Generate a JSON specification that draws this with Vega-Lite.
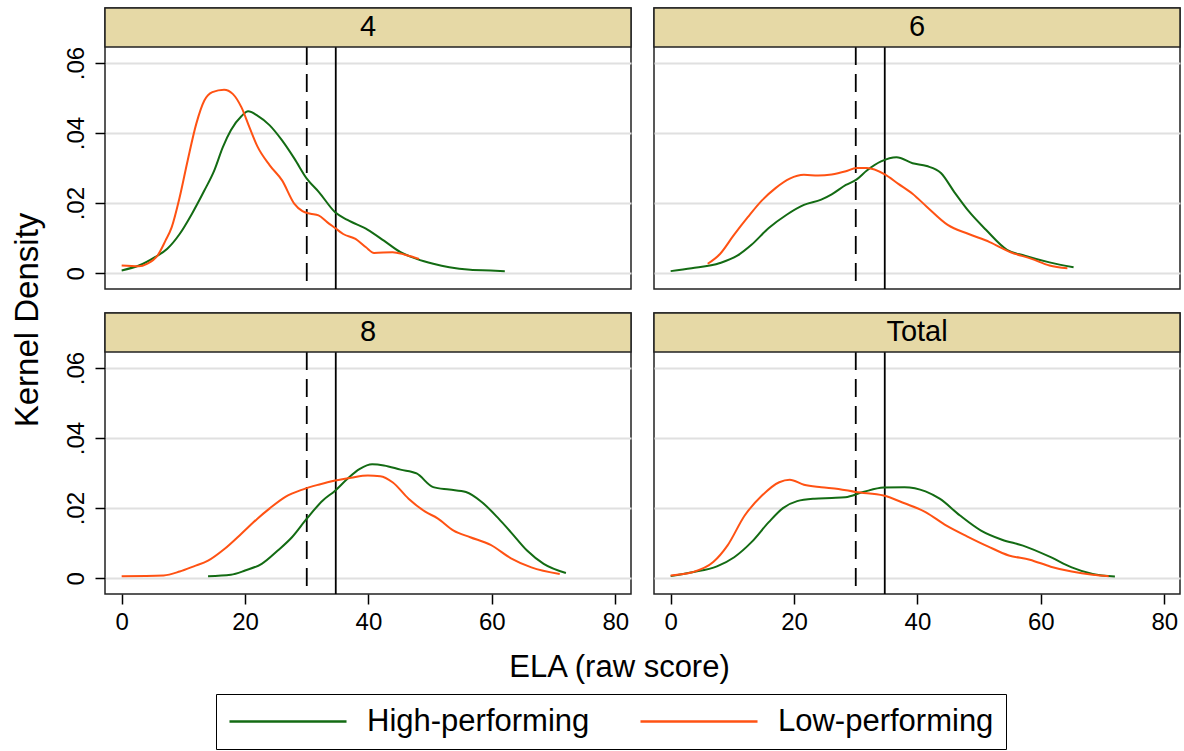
{
  "$schema": "https://vega.github.io/schema/vega-lite/v6.json",
  "background": "white",
  "padding": {"left": 10, "top": 6, "right": 3, "bottom": 2},
  "config": {
    "font": "Liberation Sans",
    "view": {"stroke": "#222222", "strokeWidth": 1.5},
    "axis": {"labelColor": "black", "titleColor": "black", "titleFontWeight": "normal"}
  },
  "datasets": {
    "curves": [
      {"g":"4","s":"High-performing","x":0,"y":0.0008},{"g":"4","s":"High-performing","x":2.8,"y":0.0022},{"g":"4","s":"High-performing","x":5.4,"y":0.0046},{"g":"4","s":"High-performing","x":7.4,"y":0.007},{"g":"4","s":"High-performing","x":9.4,"y":0.0112},{"g":"4","s":"High-performing","x":11.4,"y":0.017},{"g":"4","s":"High-performing","x":13.4,"y":0.0236},{"g":"4","s":"High-performing","x":15,"y":0.0293},{"g":"4","s":"High-performing","x":16.4,"y":0.036},{"g":"4","s":"High-performing","x":17.7,"y":0.0408},{"g":"4","s":"High-performing","x":19.4,"y":0.0448},{"g":"4","s":"High-performing","x":20.5,"y":0.0462},{"g":"4","s":"High-performing","x":22,"y":0.045},{"g":"4","s":"High-performing","x":24,"y":0.0422},{"g":"4","s":"High-performing","x":26,"y":0.0379},{"g":"4","s":"High-performing","x":28,"y":0.0327},{"g":"4","s":"High-performing","x":30,"y":0.027},{"g":"4","s":"High-performing","x":32,"y":0.0231},{"g":"4","s":"High-performing","x":34.6,"y":0.0174},{"g":"4","s":"High-performing","x":36.6,"y":0.0152},{"g":"4","s":"High-performing","x":39.9,"y":0.0124},{"g":"4","s":"High-performing","x":42.5,"y":0.0093},{"g":"4","s":"High-performing","x":45.2,"y":0.006},{"g":"4","s":"High-performing","x":47.8,"y":0.0041},{"g":"4","s":"High-performing","x":50.5,"y":0.0027},{"g":"4","s":"High-performing","x":53.1,"y":0.0017},{"g":"4","s":"High-performing","x":56.5,"y":0.001},{"g":"4","s":"High-performing","x":59.8,"y":0.0008},{"g":"4","s":"High-performing","x":62.1,"y":0.0006},
      {"g":"4","s":"Low-performing","x":0,"y":0.0022},{"g":"4","s":"Low-performing","x":2.8,"y":0.002},{"g":"4","s":"Low-performing","x":4.1,"y":0.0027},{"g":"4","s":"Low-performing","x":5.8,"y":0.005},{"g":"4","s":"Low-performing","x":7.1,"y":0.0093},{"g":"4","s":"Low-performing","x":8.1,"y":0.0131},{"g":"4","s":"Low-performing","x":9.4,"y":0.0217},{"g":"4","s":"Low-performing","x":10.7,"y":0.0322},{"g":"4","s":"Low-performing","x":12.1,"y":0.0427},{"g":"4","s":"Low-performing","x":13.4,"y":0.0493},{"g":"4","s":"Low-performing","x":14.7,"y":0.0517},{"g":"4","s":"Low-performing","x":16.6,"y":0.0524},{"g":"4","s":"Low-performing","x":18,"y":0.0512},{"g":"4","s":"Low-performing","x":19.4,"y":0.0474},{"g":"4","s":"Low-performing","x":20.7,"y":0.0417},{"g":"4","s":"Low-performing","x":22,"y":0.0362},{"g":"4","s":"Low-performing","x":24,"y":0.0308},{"g":"4","s":"Low-performing","x":26,"y":0.0265},{"g":"4","s":"Low-performing","x":28,"y":0.0198},{"g":"4","s":"Low-performing","x":29.3,"y":0.0177},{"g":"4","s":"Low-performing","x":30.6,"y":0.017},{"g":"4","s":"Low-performing","x":31.9,"y":0.0165},{"g":"4","s":"Low-performing","x":33.3,"y":0.0146},{"g":"4","s":"Low-performing","x":34.6,"y":0.0129},{"g":"4","s":"Low-performing","x":35.9,"y":0.0112},{"g":"4","s":"Low-performing","x":37.9,"y":0.0098},{"g":"4","s":"Low-performing","x":39.6,"y":0.0074},{"g":"4","s":"Low-performing","x":40.9,"y":0.0058},{"g":"4","s":"Low-performing","x":43.9,"y":0.006},{"g":"4","s":"Low-performing","x":45.9,"y":0.0053},{"g":"4","s":"Low-performing","x":48.2,"y":0.0041},
      {"g":"6","s":"High-performing","x":0,"y":0.0006},{"g":"6","s":"High-performing","x":3.4,"y":0.0014},{"g":"6","s":"High-performing","x":8,"y":0.0029},{"g":"6","s":"High-performing","x":10.8,"y":0.005},{"g":"6","s":"High-performing","x":13.1,"y":0.0081},{"g":"6","s":"High-performing","x":15.9,"y":0.0129},{"g":"6","s":"High-performing","x":18.8,"y":0.0167},{"g":"6","s":"High-performing","x":21.6,"y":0.0195},{"g":"6","s":"High-performing","x":24.4,"y":0.021},{"g":"6","s":"High-performing","x":26.1,"y":0.0225},{"g":"6","s":"High-performing","x":28.4,"y":0.0252},{"g":"6","s":"High-performing","x":30.1,"y":0.0267},{"g":"6","s":"High-performing","x":31.8,"y":0.0293},{"g":"6","s":"High-performing","x":34.1,"y":0.0319},{"g":"6","s":"High-performing","x":36.6,"y":0.0331},{"g":"6","s":"High-performing","x":39.2,"y":0.0314},{"g":"6","s":"High-performing","x":41.5,"y":0.0306},{"g":"6","s":"High-performing","x":43.8,"y":0.0286},{"g":"6","s":"High-performing","x":46,"y":0.0231},{"g":"6","s":"High-performing","x":48.3,"y":0.0177},{"g":"6","s":"High-performing","x":51.1,"y":0.0124},{"g":"6","s":"High-performing","x":54.5,"y":0.0067},{"g":"6","s":"High-performing","x":57.4,"y":0.005},{"g":"6","s":"High-performing","x":61.4,"y":0.0031},{"g":"6","s":"High-performing","x":65.3,"y":0.0017},
      {"g":"6","s":"Low-performing","x":6,"y":0.0027},{"g":"6","s":"Low-performing","x":8,"y":0.0055},{"g":"6","s":"Low-performing","x":10.2,"y":0.0108},{"g":"6","s":"Low-performing","x":12.5,"y":0.016},{"g":"6","s":"Low-performing","x":14.8,"y":0.0208},{"g":"6","s":"Low-performing","x":17,"y":0.0243},{"g":"6","s":"Low-performing","x":19.3,"y":0.027},{"g":"6","s":"Low-performing","x":21.6,"y":0.0281},{"g":"6","s":"Low-performing","x":23.9,"y":0.0279},{"g":"6","s":"Low-performing","x":26.1,"y":0.0282},{"g":"6","s":"Low-performing","x":28.4,"y":0.0291},{"g":"6","s":"Low-performing","x":30.1,"y":0.03},{"g":"6","s":"Low-performing","x":31.8,"y":0.03},{"g":"6","s":"Low-performing","x":34.7,"y":0.0282},{"g":"6","s":"Low-performing","x":36.9,"y":0.0255},{"g":"6","s":"Low-performing","x":39.2,"y":0.0227},{"g":"6","s":"Low-performing","x":41.5,"y":0.019},{"g":"6","s":"Low-performing","x":44.9,"y":0.0138},{"g":"6","s":"Low-performing","x":48.3,"y":0.0112},{"g":"6","s":"Low-performing","x":51.7,"y":0.0089},{"g":"6","s":"Low-performing","x":55.1,"y":0.006},{"g":"6","s":"Low-performing","x":58.5,"y":0.0041},{"g":"6","s":"Low-performing","x":61.4,"y":0.0022},{"g":"6","s":"Low-performing","x":64.3,"y":0.0014},
      {"g":"8","s":"High-performing","x":14,"y":0.0006},{"g":"8","s":"High-performing","x":17.7,"y":0.001},{"g":"8","s":"High-performing","x":20,"y":0.0022},{"g":"8","s":"High-performing","x":22.7,"y":0.0041},{"g":"8","s":"High-performing","x":25.3,"y":0.0079},{"g":"8","s":"High-performing","x":27.6,"y":0.0117},{"g":"8","s":"High-performing","x":30,"y":0.017},{"g":"8","s":"High-performing","x":32.6,"y":0.0222},{"g":"8","s":"High-performing","x":34.6,"y":0.025},{"g":"8","s":"High-performing","x":36.6,"y":0.0284},{"g":"8","s":"High-performing","x":38.6,"y":0.0312},{"g":"8","s":"High-performing","x":40.6,"y":0.0325},{"g":"8","s":"High-performing","x":42.5,"y":0.0322},{"g":"8","s":"High-performing","x":45.2,"y":0.031},{"g":"8","s":"High-performing","x":47.8,"y":0.0299},{"g":"8","s":"High-performing","x":50.5,"y":0.026},{"g":"8","s":"High-performing","x":53.1,"y":0.0253},{"g":"8","s":"High-performing","x":55.8,"y":0.0246},{"g":"8","s":"High-performing","x":58.4,"y":0.0217},{"g":"8","s":"High-performing","x":61.1,"y":0.017},{"g":"8","s":"High-performing","x":63.1,"y":0.0131},{"g":"8","s":"High-performing","x":65.7,"y":0.0079},{"g":"8","s":"High-performing","x":68.4,"y":0.0041},{"g":"8","s":"High-performing","x":72,"y":0.0015},
      {"g":"8","s":"Low-performing","x":0,"y":0.0006},{"g":"8","s":"Low-performing","x":6.8,"y":0.0008},{"g":"8","s":"Low-performing","x":9.4,"y":0.0019},{"g":"8","s":"Low-performing","x":11.7,"y":0.0034},{"g":"8","s":"Low-performing","x":14,"y":0.005},{"g":"8","s":"Low-performing","x":16.7,"y":0.0084},{"g":"8","s":"Low-performing","x":19.4,"y":0.0127},{"g":"8","s":"Low-performing","x":22,"y":0.017},{"g":"8","s":"Low-performing","x":23.9,"y":0.0198},{"g":"8","s":"Low-performing","x":26.6,"y":0.0233},{"g":"8","s":"Low-performing","x":29.3,"y":0.0253},{"g":"8","s":"Low-performing","x":31.9,"y":0.0267},{"g":"8","s":"Low-performing","x":34.6,"y":0.0279},{"g":"8","s":"Low-performing","x":37.2,"y":0.0287},{"g":"8","s":"Low-performing","x":39.9,"y":0.0293},{"g":"8","s":"Low-performing","x":41.9,"y":0.0291},{"g":"8","s":"Low-performing","x":43.9,"y":0.0274},{"g":"8","s":"Low-performing","x":46.5,"y":0.0227},{"g":"8","s":"Low-performing","x":49.2,"y":0.019},{"g":"8","s":"Low-performing","x":51.2,"y":0.0171},{"g":"8","s":"Low-performing","x":53.8,"y":0.0136},{"g":"8","s":"Low-performing","x":56.5,"y":0.0117},{"g":"8","s":"Low-performing","x":59.8,"y":0.0095},{"g":"8","s":"Low-performing","x":63.1,"y":0.0057},{"g":"8","s":"Low-performing","x":66.4,"y":0.0031},{"g":"8","s":"Low-performing","x":71,"y":0.0012},
      {"g":"Total","s":"High-performing","x":0,"y":0.0006},{"g":"Total","s":"High-performing","x":3.5,"y":0.0017},{"g":"Total","s":"High-performing","x":7.5,"y":0.0034},{"g":"Total","s":"High-performing","x":10.3,"y":0.006},{"g":"Total","s":"High-performing","x":13.1,"y":0.0103},{"g":"Total","s":"High-performing","x":15.9,"y":0.016},{"g":"Total","s":"High-performing","x":18.2,"y":0.02},{"g":"Total","s":"High-performing","x":20.5,"y":0.022},{"g":"Total","s":"High-performing","x":23.3,"y":0.0227},{"g":"Total","s":"High-performing","x":26.1,"y":0.0229},{"g":"Total","s":"High-performing","x":28.3,"y":0.0231},{"g":"Total","s":"High-performing","x":31.2,"y":0.0246},{"g":"Total","s":"High-performing","x":34.5,"y":0.0259},{"g":"Total","s":"High-performing","x":37.9,"y":0.026},{"g":"Total","s":"High-performing","x":41.3,"y":0.0248},{"g":"Total","s":"High-performing","x":43.6,"y":0.0227},{"g":"Total","s":"High-performing","x":46.9,"y":0.0179},{"g":"Total","s":"High-performing","x":50.3,"y":0.0136},{"g":"Total","s":"High-performing","x":53.7,"y":0.011},{"g":"Total","s":"High-performing","x":57.1,"y":0.0093},{"g":"Total","s":"High-performing","x":61.6,"y":0.006},{"g":"Total","s":"High-performing","x":65,"y":0.0031},{"g":"Total","s":"High-performing","x":68.4,"y":0.0012},{"g":"Total","s":"High-performing","x":72,"y":0.0005},
      {"g":"Total","s":"Low-performing","x":0,"y":0.0008},{"g":"Total","s":"Low-performing","x":3.5,"y":0.0017},{"g":"Total","s":"Low-performing","x":6.9,"y":0.0046},{"g":"Total","s":"Low-performing","x":9.2,"y":0.0093},{"g":"Total","s":"Low-performing","x":12,"y":0.0179},{"g":"Total","s":"Low-performing","x":14.8,"y":0.0236},{"g":"Total","s":"Low-performing","x":17.6,"y":0.0274},{"g":"Total","s":"Low-performing","x":19.3,"y":0.0281},{"g":"Total","s":"Low-performing","x":21.6,"y":0.0267},{"g":"Total","s":"Low-performing","x":24.4,"y":0.026},{"g":"Total","s":"Low-performing","x":27.2,"y":0.0255},{"g":"Total","s":"Low-performing","x":30,"y":0.0246},{"g":"Total","s":"Low-performing","x":34.5,"y":0.0236},{"g":"Total","s":"Low-performing","x":37.9,"y":0.0214},{"g":"Total","s":"Low-performing","x":41.3,"y":0.0189},{"g":"Total","s":"Low-performing","x":44.7,"y":0.015},{"g":"Total","s":"Low-performing","x":48.1,"y":0.0119},{"g":"Total","s":"Low-performing","x":51.4,"y":0.0091},{"g":"Total","s":"Low-performing","x":54.8,"y":0.0065},{"g":"Total","s":"Low-performing","x":58.2,"y":0.0053},{"g":"Total","s":"Low-performing","x":61.6,"y":0.0033},{"g":"Total","s":"Low-performing","x":65,"y":0.0019},{"g":"Total","s":"Low-performing","x":68.4,"y":0.001},{"g":"Total","s":"Low-performing","x":71,"y":0.0006}
    ],
    "cuts": [{"x": 30, "kind": "dashed"}, {"x": 34.7, "kind": "solid"}]
  },
  "columns": 2,
  "bounds": "flush",
  "spacing": {"row": 24, "column": 23},
  "concat": [
    {
      "width": 526, "height": 281,
      "layer": [
        {"data": {"name": "cuts"}, "transform": [{"filter": "datum.kind === 'dashed'"}], "mark": {"type": "rule", "color": "black", "strokeWidth": 1.8, "strokeDash": [18, 9], "strokeDashOffset": 19},
         "encoding": {"x": {"field": "x", "type": "quantitative", "axis": null},
                      "y": {"datum": -0.0045, "type": "quantitative", "axis": {"values": [0, 0.02, 0.04, 0.06], "labelAngle": -90, "labelFontSize": 24, "labelPadding": 7, "tickSize": 10, "tickColor": "black", "tickWidth": 1.5, "domain": false, "grid": true, "gridColor": "#e0e0e0", "gridWidth": 2, "labelExpr": "datum.value == 0 ? '0' : replace(format(datum.value, '.2f'), '0.', '.')", "title": "Kernel Density", "titleFontSize": 33, "titleAngle": -90, "titleBaseline": "alphabetic", "titleX": -68, "titleY": 311.5}},
                      "y2": {"datum": 0.0646}}},
        {"data": {"name": "cuts"}, "transform": [{"filter": "datum.kind === 'solid'"}], "mark": {"type": "rule", "color": "black", "strokeWidth": 1.8},
         "encoding": {"x": {"field": "x", "type": "quantitative", "axis": null},
                      "y": {"datum": -0.0045, "type": "quantitative", "axis": {"values": [0, 0.02, 0.04, 0.06], "labelAngle": -90, "labelFontSize": 24, "labelPadding": 7, "tickSize": 10, "tickColor": "black", "tickWidth": 1.5, "domain": false, "grid": true, "gridColor": "#e0e0e0", "gridWidth": 2, "labelExpr": "datum.value == 0 ? '0' : replace(format(datum.value, '.2f'), '0.', '.')", "title": "Kernel Density", "titleFontSize": 33, "titleAngle": -90, "titleBaseline": "alphabetic", "titleX": -68, "titleY": 311.5}},
                      "y2": {"datum": 0.0646}}},
        {"data": {"name": "curves"}, "transform": [{"filter": "datum.g === '4'"}], "mark": {"type": "line", "strokeWidth": 2, "interpolate": "monotone"},
         "encoding": {
           "x": {"field": "x", "type": "quantitative", "scale": {"domain": [-2.7, 82.55], "nice": false, "zero": false}, "axis": null},
           "y": {"field": "y", "type": "quantitative", "scale": {"domain": [-0.0045, 0.0757], "nice": false, "zero": false},
                 "axis": {"values": [0, 0.02, 0.04, 0.06], "labelAngle": -90, "labelFontSize": 24, "labelPadding": 7, "tickSize": 10, "tickColor": "black", "tickWidth": 1.5, "domain": false, "grid": true, "gridColor": "#e0e0e0", "gridWidth": 2, "labelExpr": "datum.value == 0 ? '0' : replace(format(datum.value, '.2f'), '0.', '.')", "title": "Kernel Density", "titleFontSize": 33, "titleAngle": -90, "titleBaseline": "alphabetic", "titleX": -68, "titleY": 311.5}},
           "color": {"field": "s", "type": "nominal", "scale": {"domain": ["High-performing", "Low-performing"], "range": ["#136b13", "#ff5213"]},
                     "legend": {"title": null, "orient": "none", "legendX": 111, "legendY": 686, "direction": "horizontal", "strokeColor": "black", "padding": 12, "symbolType": "stroke", "symbolSize": 13700, "clipHeight": 31, "symbolStrokeWidth": 2.5, "labelFontSize": 31, "labelColor": "black", "labelOffset": 19, "labelLimit": 400, "columnPadding": 49, "gridAlign": "all"}}}},
        {"data": {"values": [{"label": "4"}]}, "mark": {"type": "rect", "fill": "#e6d9a6", "stroke": "#222222", "strokeWidth": 1.5},
         "encoding": {"x": {"datum": -2.7, "type": "quantitative", "axis": null}, "x2": {"datum": 82.55},
                      "y": {"datum": 0.0646, "type": "quantitative", "axis": {"values": [0, 0.02, 0.04, 0.06], "labelAngle": -90, "labelFontSize": 24, "labelPadding": 7, "tickSize": 10, "tickColor": "black", "tickWidth": 1.5, "domain": false, "grid": true, "gridColor": "#e0e0e0", "gridWidth": 2, "labelExpr": "datum.value == 0 ? '0' : replace(format(datum.value, '.2f'), '0.', '.')", "title": "Kernel Density", "titleFontSize": 33, "titleAngle": -90, "titleBaseline": "alphabetic", "titleX": -68, "titleY": 311.5}},
                      "y2": {"datum": 0.0757}}},
        {"data": {"values": [{"label": "4"}]}, "mark": {"type": "text", "fontSize": 29, "color": "black", "baseline": "middle"},
         "encoding": {"x": {"datum": 39.925, "type": "quantitative", "axis": null},
                      "y": {"datum": 0.07015, "type": "quantitative", "axis": {"values": [0, 0.02, 0.04, 0.06], "labelAngle": -90, "labelFontSize": 24, "labelPadding": 7, "tickSize": 10, "tickColor": "black", "tickWidth": 1.5, "domain": false, "grid": true, "gridColor": "#e0e0e0", "gridWidth": 2, "labelExpr": "datum.value == 0 ? '0' : replace(format(datum.value, '.2f'), '0.', '.')", "title": "Kernel Density", "titleFontSize": 33, "titleAngle": -90, "titleBaseline": "alphabetic", "titleX": -68, "titleY": 311.5}},
                      "text": {"field": "label", "type": "nominal"}}}
      ]
    },
    {
      "width": 526, "height": 281,
      "layer": [
        {"data": {"name": "cuts"}, "transform": [{"filter": "datum.kind === 'dashed'"}], "mark": {"type": "rule", "color": "black", "strokeWidth": 1.8, "strokeDash": [18, 9], "strokeDashOffset": 19},
         "encoding": {"x": {"field": "x", "type": "quantitative", "axis": null},
                      "y": {"datum": -0.0045, "type": "quantitative", "axis": {"values": [0, 0.02, 0.04, 0.06], "labels": false, "ticks": false, "domain": false, "grid": true, "gridColor": "#e0e0e0", "gridWidth": 2, "title": null}},
                      "y2": {"datum": 0.0646}}},
        {"data": {"name": "cuts"}, "transform": [{"filter": "datum.kind === 'solid'"}], "mark": {"type": "rule", "color": "black", "strokeWidth": 1.8},
         "encoding": {"x": {"field": "x", "type": "quantitative", "axis": null},
                      "y": {"datum": -0.0045, "type": "quantitative", "axis": {"values": [0, 0.02, 0.04, 0.06], "labels": false, "ticks": false, "domain": false, "grid": true, "gridColor": "#e0e0e0", "gridWidth": 2, "title": null}},
                      "y2": {"datum": 0.0646}}},
        {"data": {"name": "curves"}, "transform": [{"filter": "datum.g === '6'"}], "mark": {"type": "line", "strokeWidth": 2, "interpolate": "monotone"},
         "encoding": {
           "x": {"field": "x", "type": "quantitative", "scale": {"domain": [-2.7, 82.55], "nice": false, "zero": false}, "axis": null},
           "y": {"field": "y", "type": "quantitative", "scale": {"domain": [-0.0045, 0.0757], "nice": false, "zero": false},
                 "axis": {"values": [0, 0.02, 0.04, 0.06], "labels": false, "ticks": false, "domain": false, "grid": true, "gridColor": "#e0e0e0", "gridWidth": 2, "title": null}},
           "color": {"field": "s", "type": "nominal", "scale": {"domain": ["High-performing", "Low-performing"], "range": ["#136b13", "#ff5213"]},
                     "legend": {"title": null, "orient": "none", "legendX": 111, "legendY": 686, "direction": "horizontal", "strokeColor": "black", "padding": 12, "symbolType": "stroke", "symbolSize": 13700, "clipHeight": 31, "symbolStrokeWidth": 2.5, "labelFontSize": 31, "labelColor": "black", "labelOffset": 19, "labelLimit": 400, "columnPadding": 49, "gridAlign": "all"}}}},
        {"data": {"values": [{"label": "6"}]}, "mark": {"type": "rect", "fill": "#e6d9a6", "stroke": "#222222", "strokeWidth": 1.5},
         "encoding": {"x": {"datum": -2.7, "type": "quantitative", "axis": null}, "x2": {"datum": 82.55},
                      "y": {"datum": 0.0646, "type": "quantitative", "axis": {"values": [0, 0.02, 0.04, 0.06], "labels": false, "ticks": false, "domain": false, "grid": true, "gridColor": "#e0e0e0", "gridWidth": 2, "title": null}},
                      "y2": {"datum": 0.0757}}},
        {"data": {"values": [{"label": "6"}]}, "mark": {"type": "text", "fontSize": 29, "color": "black", "baseline": "middle"},
         "encoding": {"x": {"datum": 39.925, "type": "quantitative", "axis": null},
                      "y": {"datum": 0.07015, "type": "quantitative", "axis": {"values": [0, 0.02, 0.04, 0.06], "labels": false, "ticks": false, "domain": false, "grid": true, "gridColor": "#e0e0e0", "gridWidth": 2, "title": null}},
                      "text": {"field": "label", "type": "nominal"}}}
      ]
    },
    {
      "width": 526, "height": 281,
      "layer": [
        {"data": {"name": "cuts"}, "transform": [{"filter": "datum.kind === 'dashed'"}], "mark": {"type": "rule", "color": "black", "strokeWidth": 1.8, "strokeDash": [18, 9], "strokeDashOffset": 19},
         "encoding": {"x": {"field": "x", "type": "quantitative", "axis": {"values": [0, 20, 40, 60, 80], "labelAngle": 0, "labelFontSize": 24, "labelPadding": 6, "tickSize": 10, "tickColor": "black", "tickWidth": 1.5, "domain": false, "grid": false, "title": "ELA (raw score)", "titleFontSize": 31, "titleBaseline": "alphabetic", "titleX": 514, "titleY": 82}},
                      "y": {"datum": -0.0045, "type": "quantitative", "axis": {"values": [0, 0.02, 0.04, 0.06], "labelAngle": -90, "labelFontSize": 24, "labelPadding": 7, "tickSize": 10, "tickColor": "black", "tickWidth": 1.5, "domain": false, "grid": true, "gridColor": "#e0e0e0", "gridWidth": 2, "labelExpr": "datum.value == 0 ? '0' : replace(format(datum.value, '.2f'), '0.', '.')", "title": null}},
                      "y2": {"datum": 0.0646}}},
        {"data": {"name": "cuts"}, "transform": [{"filter": "datum.kind === 'solid'"}], "mark": {"type": "rule", "color": "black", "strokeWidth": 1.8},
         "encoding": {"x": {"field": "x", "type": "quantitative", "axis": {"values": [0, 20, 40, 60, 80], "labelAngle": 0, "labelFontSize": 24, "labelPadding": 6, "tickSize": 10, "tickColor": "black", "tickWidth": 1.5, "domain": false, "grid": false, "title": "ELA (raw score)", "titleFontSize": 31, "titleBaseline": "alphabetic", "titleX": 514, "titleY": 82}},
                      "y": {"datum": -0.0045, "type": "quantitative", "axis": {"values": [0, 0.02, 0.04, 0.06], "labelAngle": -90, "labelFontSize": 24, "labelPadding": 7, "tickSize": 10, "tickColor": "black", "tickWidth": 1.5, "domain": false, "grid": true, "gridColor": "#e0e0e0", "gridWidth": 2, "labelExpr": "datum.value == 0 ? '0' : replace(format(datum.value, '.2f'), '0.', '.')", "title": null}},
                      "y2": {"datum": 0.0646}}},
        {"data": {"name": "curves"}, "transform": [{"filter": "datum.g === '8'"}], "mark": {"type": "line", "strokeWidth": 2, "interpolate": "monotone"},
         "encoding": {
           "x": {"field": "x", "type": "quantitative", "scale": {"domain": [-2.7, 82.55], "nice": false, "zero": false},
                 "axis": {"values": [0, 20, 40, 60, 80], "labelAngle": 0, "labelFontSize": 24, "labelPadding": 6, "tickSize": 10, "tickColor": "black", "tickWidth": 1.5, "domain": false, "grid": false, "title": "ELA (raw score)", "titleFontSize": 31, "titleBaseline": "alphabetic", "titleX": 514, "titleY": 82}},
           "y": {"field": "y", "type": "quantitative", "scale": {"domain": [-0.0045, 0.0757], "nice": false, "zero": false},
                 "axis": {"values": [0, 0.02, 0.04, 0.06], "labelAngle": -90, "labelFontSize": 24, "labelPadding": 7, "tickSize": 10, "tickColor": "black", "tickWidth": 1.5, "domain": false, "grid": true, "gridColor": "#e0e0e0", "gridWidth": 2, "labelExpr": "datum.value == 0 ? '0' : replace(format(datum.value, '.2f'), '0.', '.')", "title": null}},
           "color": {"field": "s", "type": "nominal", "scale": {"domain": ["High-performing", "Low-performing"], "range": ["#136b13", "#ff5213"]},
                     "legend": {"title": null, "orient": "none", "legendX": 111, "legendY": 686, "direction": "horizontal", "strokeColor": "black", "padding": 12, "symbolType": "stroke", "symbolSize": 13700, "clipHeight": 31, "symbolStrokeWidth": 2.5, "labelFontSize": 31, "labelColor": "black", "labelOffset": 19, "labelLimit": 400, "columnPadding": 49, "gridAlign": "all"}}}},
        {"data": {"values": [{"label": "8"}]}, "mark": {"type": "rect", "fill": "#e6d9a6", "stroke": "#222222", "strokeWidth": 1.5},
         "encoding": {"x": {"datum": -2.7, "type": "quantitative", "axis": {"values": [0, 20, 40, 60, 80], "labelAngle": 0, "labelFontSize": 24, "labelPadding": 6, "tickSize": 10, "tickColor": "black", "tickWidth": 1.5, "domain": false, "grid": false, "title": "ELA (raw score)", "titleFontSize": 31, "titleBaseline": "alphabetic", "titleX": 514, "titleY": 82}}, "x2": {"datum": 82.55},
                      "y": {"datum": 0.0646, "type": "quantitative", "axis": {"values": [0, 0.02, 0.04, 0.06], "labelAngle": -90, "labelFontSize": 24, "labelPadding": 7, "tickSize": 10, "tickColor": "black", "tickWidth": 1.5, "domain": false, "grid": true, "gridColor": "#e0e0e0", "gridWidth": 2, "labelExpr": "datum.value == 0 ? '0' : replace(format(datum.value, '.2f'), '0.', '.')", "title": null}},
                      "y2": {"datum": 0.0757}}},
        {"data": {"values": [{"label": "8"}]}, "mark": {"type": "text", "fontSize": 29, "color": "black", "baseline": "middle"},
         "encoding": {"x": {"datum": 39.925, "type": "quantitative", "axis": {"values": [0, 20, 40, 60, 80], "labelAngle": 0, "labelFontSize": 24, "labelPadding": 6, "tickSize": 10, "tickColor": "black", "tickWidth": 1.5, "domain": false, "grid": false, "title": "ELA (raw score)", "titleFontSize": 31, "titleBaseline": "alphabetic", "titleX": 514, "titleY": 82}},
                      "y": {"datum": 0.07015, "type": "quantitative", "axis": {"values": [0, 0.02, 0.04, 0.06], "labelAngle": -90, "labelFontSize": 24, "labelPadding": 7, "tickSize": 10, "tickColor": "black", "tickWidth": 1.5, "domain": false, "grid": true, "gridColor": "#e0e0e0", "gridWidth": 2, "labelExpr": "datum.value == 0 ? '0' : replace(format(datum.value, '.2f'), '0.', '.')", "title": null}},
                      "text": {"field": "label", "type": "nominal"}}}
      ]
    },
    {
      "width": 526, "height": 281,
      "layer": [
        {"data": {"name": "cuts"}, "transform": [{"filter": "datum.kind === 'dashed'"}], "mark": {"type": "rule", "color": "black", "strokeWidth": 1.8, "strokeDash": [18, 9], "strokeDashOffset": 19},
         "encoding": {"x": {"field": "x", "type": "quantitative", "axis": {"values": [0, 20, 40, 60, 80], "labelAngle": 0, "labelFontSize": 24, "labelPadding": 6, "tickSize": 10, "tickColor": "black", "tickWidth": 1.5, "domain": false, "grid": false, "title": null}},
                      "y": {"datum": -0.0045, "type": "quantitative", "axis": {"values": [0, 0.02, 0.04, 0.06], "labels": false, "ticks": false, "domain": false, "grid": true, "gridColor": "#e0e0e0", "gridWidth": 2, "title": null}},
                      "y2": {"datum": 0.0646}}},
        {"data": {"name": "cuts"}, "transform": [{"filter": "datum.kind === 'solid'"}], "mark": {"type": "rule", "color": "black", "strokeWidth": 1.8},
         "encoding": {"x": {"field": "x", "type": "quantitative", "axis": {"values": [0, 20, 40, 60, 80], "labelAngle": 0, "labelFontSize": 24, "labelPadding": 6, "tickSize": 10, "tickColor": "black", "tickWidth": 1.5, "domain": false, "grid": false, "title": null}},
                      "y": {"datum": -0.0045, "type": "quantitative", "axis": {"values": [0, 0.02, 0.04, 0.06], "labels": false, "ticks": false, "domain": false, "grid": true, "gridColor": "#e0e0e0", "gridWidth": 2, "title": null}},
                      "y2": {"datum": 0.0646}}},
        {"data": {"name": "curves"}, "transform": [{"filter": "datum.g === 'Total'"}], "mark": {"type": "line", "strokeWidth": 2, "interpolate": "monotone"},
         "encoding": {
           "x": {"field": "x", "type": "quantitative", "scale": {"domain": [-2.7, 82.55], "nice": false, "zero": false},
                 "axis": {"values": [0, 20, 40, 60, 80], "labelAngle": 0, "labelFontSize": 24, "labelPadding": 6, "tickSize": 10, "tickColor": "black", "tickWidth": 1.5, "domain": false, "grid": false, "title": null}},
           "y": {"field": "y", "type": "quantitative", "scale": {"domain": [-0.0045, 0.0757], "nice": false, "zero": false},
                 "axis": {"values": [0, 0.02, 0.04, 0.06], "labels": false, "ticks": false, "domain": false, "grid": true, "gridColor": "#e0e0e0", "gridWidth": 2, "title": null}},
           "color": {"field": "s", "type": "nominal", "scale": {"domain": ["High-performing", "Low-performing"], "range": ["#136b13", "#ff5213"]},
                     "legend": {"title": null, "orient": "none", "legendX": 111, "legendY": 686, "direction": "horizontal", "strokeColor": "black", "padding": 12, "symbolType": "stroke", "symbolSize": 13700, "clipHeight": 31, "symbolStrokeWidth": 2.5, "labelFontSize": 31, "labelColor": "black", "labelOffset": 19, "labelLimit": 400, "columnPadding": 49, "gridAlign": "all"}}}},
        {"data": {"values": [{"label": "Total"}]}, "mark": {"type": "rect", "fill": "#e6d9a6", "stroke": "#222222", "strokeWidth": 1.5},
         "encoding": {"x": {"datum": -2.7, "type": "quantitative", "axis": {"values": [0, 20, 40, 60, 80], "labelAngle": 0, "labelFontSize": 24, "labelPadding": 6, "tickSize": 10, "tickColor": "black", "tickWidth": 1.5, "domain": false, "grid": false, "title": null}}, "x2": {"datum": 82.55},
                      "y": {"datum": 0.0646, "type": "quantitative", "axis": {"values": [0, 0.02, 0.04, 0.06], "labels": false, "ticks": false, "domain": false, "grid": true, "gridColor": "#e0e0e0", "gridWidth": 2, "title": null}},
                      "y2": {"datum": 0.0757}}},
        {"data": {"values": [{"label": "Total"}]}, "mark": {"type": "text", "fontSize": 29, "color": "black", "baseline": "middle"},
         "encoding": {"x": {"datum": 39.925, "type": "quantitative", "axis": {"values": [0, 20, 40, 60, 80], "labelAngle": 0, "labelFontSize": 24, "labelPadding": 6, "tickSize": 10, "tickColor": "black", "tickWidth": 1.5, "domain": false, "grid": false, "title": null}},
                      "y": {"datum": 0.07015, "type": "quantitative", "axis": {"values": [0, 0.02, 0.04, 0.06], "labels": false, "ticks": false, "domain": false, "grid": true, "gridColor": "#e0e0e0", "gridWidth": 2, "title": null}},
                      "text": {"field": "label", "type": "nominal"}}}
      ]
    }
  ]
}
